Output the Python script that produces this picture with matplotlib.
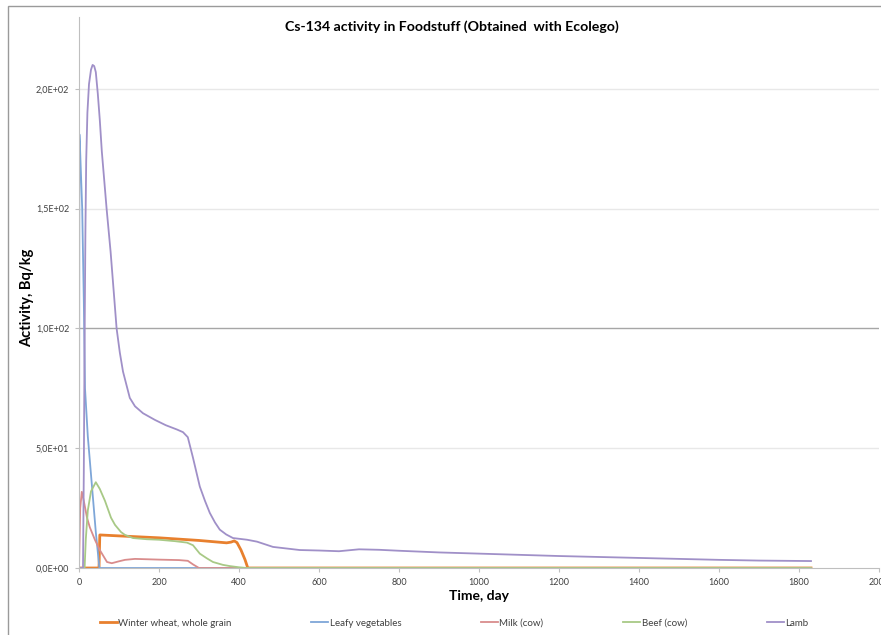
import matplotlib.pyplot as plt
from matplotlib.patches import Rectangle

plt.rcParams['font.family'] = ['Lato', 'DejaVu Sans']

# series (day, Bq/kg)
wheat_days = [0, 50, 52, 100, 200, 300, 369, 380, 388, 395, 405, 415, 422, 1830]
wheat_vals = [0, 0, 13.8, 13.4, 12.6, 11.5, 10.5, 10.8, 11.3, 10.6, 7.5, 3.5, 0, 0]

leafy_days = [0, 1, 2, 8, 12, 15, 22, 32, 42, 51, 1830]
leafy_vals = [0, 181, 178, 150, 112, 75, 55, 35, 15, 0, 0]

milk_days = [0, 3, 7, 12, 20, 27, 40, 52, 70, 82, 100, 115, 140, 200, 250, 272, 285, 300, 1830]
milk_vals = [0, 25, 31.8, 28, 21, 17, 11.7, 7.5, 2.5, 2, 2.8, 3.4, 3.8, 3.5, 3.3, 3.0, 1.5, 0, 0]

beef_days = [0, 14, 17, 22, 30, 42, 52, 65, 80, 90, 105, 115, 135, 170, 200, 240, 270, 285, 302, 320, 335, 360, 377, 400, 420, 1830]
beef_vals = [0, 0, 12, 24, 32, 35.8, 33, 28, 21, 18, 15, 13.8, 12.5, 12, 11.8, 11.2, 10.6, 9.5, 6, 4, 2.5, 1.3, 0.8, 0.3, 0, 0]

lamb_days = [0, 10, 12, 14, 16, 18, 21, 25, 30, 34, 38, 42, 47, 52, 57, 63, 69, 79, 87, 94, 102, 110, 127, 140, 160, 190, 217,
             245, 260, 272, 285, 302, 315, 327, 340, 352, 368, 385, 420, 445, 485, 552, 600, 650, 700, 750, 800, 900, 1000,
             1100, 1200, 1300, 1400, 1500, 1600, 1700, 1830]
lamb_vals = [0, 0, 40, 95, 140, 170, 190, 202, 208, 210, 209.5, 207, 198, 187, 174, 162, 150, 132, 115, 100, 90, 82, 71, 67.5,
             64.6, 61.8, 59.6, 57.8, 56.7, 54.6, 46, 34, 28, 23, 19, 16, 14, 12.5, 11.8, 11, 8.8, 7.5, 7.3, 7.0, 7.8, 7.6,
             7.2, 6.5, 6.0, 5.5, 5.0, 4.6, 4.2, 3.8, 3.4, 3.1, 2.9]

y_ticks = [0, 50, 100, 150, 200]
y_labels = ['0,0E+00', '5,0E+01', '1,0E+02', '1,5E+02', '2,0E+02']
x_ticks = list(range(0, 2001, 200))

fig = plt.figure(figsize=(8.81, 6.35), dpi=100)
ax = fig.add_axes([79 / 881, 1 - 568 / 635, 800 / 881, 551 / 635])

# outer chart border
fig.patches.append(Rectangle((8 / 881, -0.01), 1.0, 1 - 6 / 635 + 0.01, transform=fig.transFigure,
                             fill=False, edgecolor='#9a9a9a', linewidth=1.0))

for yv in [50, 150, 200]:
    ax.axhline(yv, color='#e8e8e8', linewidth=1.0, zorder=0)
ax.axhline(100, color='#a6a6a6', linewidth=1.0, zorder=0)

ax.plot(wheat_days, wheat_vals, color='#e8802e', linewidth=2.0, label='Winter wheat, whole grain')
ax.plot(leafy_days, leafy_vals, color='#7ea6d8', linewidth=1.3, label='Leafy vegetables')
ax.plot(milk_days, milk_vals, color='#d98c8c', linewidth=1.3, label='Milk (cow)')
ax.plot(beef_days, beef_vals, color='#a8c986', linewidth=1.3, label='Beef (cow)')
ax.plot(lamb_days, lamb_vals, color='#a090c8', linewidth=1.3, label='Lamb')

ax.set_xlim(0, 2000)
ax.set_ylim(0, 230)
ax.set_xticks(x_ticks)
ax.set_xticklabels([str(v) for v in x_ticks], fontsize=6.5, color='#404040')
ax.set_yticks(y_ticks)
ax.set_yticklabels(y_labels, fontsize=6.5, color='#404040')
ax.tick_params(axis='both', length=3, color='#bfbfbf', width=0.8, pad=4)

for s in ['top', 'right']:
    ax.spines[s].set_visible(False)
ax.spines['left'].set_color('#bfbfbf')
ax.spines['bottom'].set_color('#bfbfbf')

ax.set_xlabel('Time, day', fontsize=10, fontweight='bold', labelpad=2)
ax.set_ylabel('Activity, Bq/kg', fontsize=10.5, fontweight='bold')
ax.yaxis.set_label_coords(-(79 - 34) / 800, (568 - 298) / 551)

fig.text(452 / 881, 1 - 27 / 635, 'Cs-134 activity in Foodstuff (Obtained  with Ecolego)',
         ha='center', va='center', fontsize=10.2, fontweight='bold')

leg = fig.legend(loc='center', bbox_to_anchor=(454 / 881, 1 - 623 / 635), ncol=5, frameon=False,
                 fontsize=7, handlelength=1.75, handletextpad=0.15, columnspacing=8.2)
for t in leg.get_texts():
    t.set_color('#404040')

fig.savefig('out.png', dpi=100)
